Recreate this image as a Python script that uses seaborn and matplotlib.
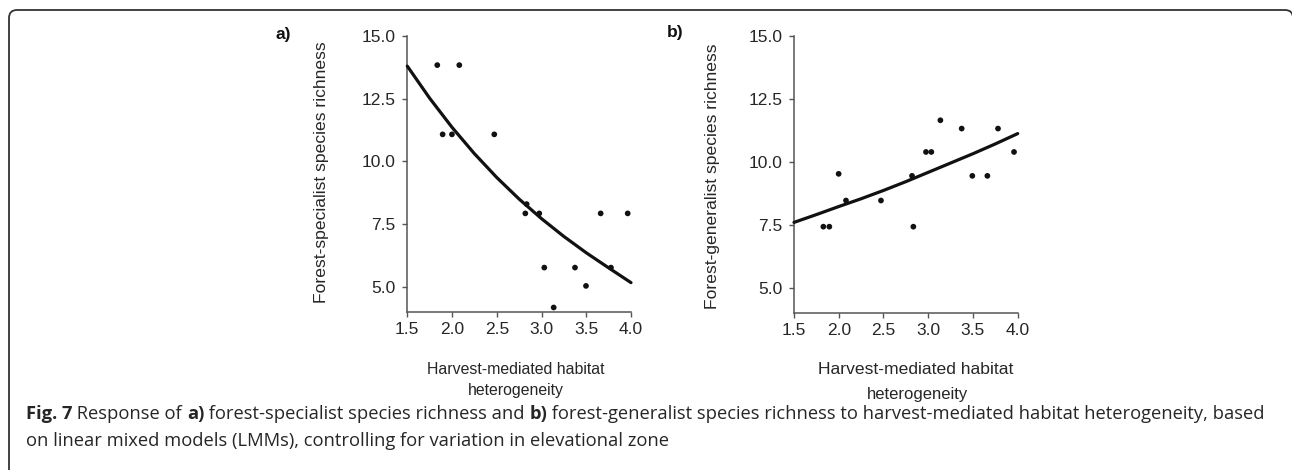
import matplotlib
matplotlib.use("Agg")
import matplotlib.pyplot as plt
import seaborn as sns
import pandas as pd
from matplotlib.patches import PathPatch
from matplotlib.path import Path
from matplotlib.transforms import IdentityTransform

# ---------------- data ----------------
spec_x = [1.835, 2.081, 1.895, 1.999, 2.472, 2.834, 2.819, 2.975, 3.031, 3.136,
          3.374, 3.497, 3.661, 3.776, 3.963]
spec_y = [13.84, 13.84, 11.08, 11.08, 11.08, 8.30, 7.93, 7.93, 5.77, 4.18,
          5.77, 5.04, 7.93, 5.77, 7.93]
spec_fit_x = [1.5, 1.75, 2.0, 2.25, 2.5, 2.75, 3.0, 3.25, 3.5, 3.75, 4.0]
spec_fit_y = [13.80, 12.52, 11.36, 10.31, 9.36, 8.50, 7.72, 7.01, 6.36, 5.76, 5.17]

gen_x = [1.828, 1.895, 1.999, 2.081, 2.472, 2.819, 2.834, 2.975, 3.035, 3.136,
         3.374, 3.493, 3.661, 3.780, 3.959]
gen_y = [7.42, 7.42, 9.52, 8.46, 8.46, 9.44, 7.42, 10.39, 10.39, 11.65,
         11.32, 9.44, 9.44, 11.32, 10.39]
gen_fit_x = [1.5, 1.75, 2.0, 2.25, 2.5, 2.75, 3.0, 3.25, 3.5, 3.75, 4.0]
gen_fit_y = [7.59, 7.90, 8.22, 8.53, 8.86, 9.21, 9.58, 9.95, 10.32, 10.71, 11.12]

x_ticks = [1.5, 2.0, 2.5, 3.0, 3.5, 4.0]
x_tick_labels = ["1.5", "2.0", "2.5", "3.0", "3.5", "4.0"]
y_ticks = [5.0, 7.5, 10.0, 12.5, 15.0]
y_tick_labels = ["5.0", "7.5", "10.0", "12.5", "15.0"]
x_lim = (1.5, 4.0)
y_lim = (4.0, 15.0)

panel_labels = ["a)", "b)"]
y_labels = ["Forest-specialist species richness", "Forest-generalist species richness"]
x_label_lines = ["Harvest-mediated habitat", "heterogeneity"]

caption_line1 = [("Fig. 7", "bold"), (" Response of ", "normal"), ("a)", "bold"),
                 (" forest-specialist species richness and ", "normal"), ("b)", "bold"),
                 (" forest-generalist species richness to harvest-mediated habitat heterogeneity, based", "normal")]
caption_line2 = [("on linear mixed models (LMMs), controlling for variation in elevational zone", "normal")]

# ---------------- styling ----------------
sns.set_theme(style="ticks")
plt.rcParams['font.family'] = ['Liberation Sans', 'DejaVu Sans']

W, H = 1292, 470
fig = plt.figure(figsize=(W / 100, H / 100), dpi=100)
fig.patch.set_facecolor("white")

INK = "#111111"
TXT = "#262626"
AX = "#555555"


def px_axes(l, t, r, b):
    return fig.add_axes([l / W, 1 - b / H, (r - l) / W, (b - t) / H])


def ftext(x, y, s, **kw):
    return fig.text(x / W, 1 - y / H, s, **kw)


ax_a = px_axes(407.3, 36, 631, 312)
ax_b = px_axes(794, 36, 1017.7, 312.7)

panels = [
    (ax_a, spec_x, spec_y, spec_fit_x, spec_fit_y),
    (ax_b, gen_x, gen_y, gen_fit_x, gen_fit_y),
]

for ax, px, py, fx, fy in panels:
    pts = pd.DataFrame({"x": px, "y": py})
    fit = pd.DataFrame({"x": fx, "y": fy})
    sns.lineplot(data=fit, x="x", y="y", ax=ax, color=INK, linewidth=2.3,
                 estimator=None, sort=True, clip_on=False, zorder=3)
    sns.scatterplot(data=pts, x="x", y="y", ax=ax, color=INK, s=17,
                    edgecolor="none", clip_on=False, zorder=4)
    ax.set_xlim(*x_lim)
    ax.set_ylim(*y_lim)
    ax.set_xticks(x_ticks)
    ax.set_xticklabels(x_tick_labels)
    ax.set_yticks(y_ticks)
    ax.set_yticklabels(y_tick_labels)
    ax.set_xlabel("")
    ax.set_ylabel("")
    ax.set_facecolor("none")
    sns.despine(ax=ax)
    for sp in ("left", "bottom"):
        ax.spines[sp].set_color(AX)
        ax.spines[sp].set_linewidth(1.1)
    ax.tick_params(axis="both", direction="out", length=3.5, width=1.0,
                   color=AX, labelcolor=TXT, labelsize=12.5)
    ax.tick_params(axis="y", pad=5)
    ax.tick_params(axis="x", pad=4)

# y labels
ftext(321.7, 172, y_labels[0], rotation=90, ha="center", va="center",
      fontsize=12.6, color=TXT)
ftext(713, 176, y_labels[1], rotation=90, ha="center", va="center",
      fontsize=12.6, color=TXT)

# panel labels
ftext(283, 35, panel_labels[0], ha="center", va="center", fontsize=12.5,
      fontweight="bold", color=INK)
ftext(675, 33, panel_labels[1], ha="center", va="center", fontsize=12.5,
      fontweight="bold", color=INK)

# x labels
ftext(516, 369, x_label_lines[0], ha="center", va="center", fontsize=11.4, color=TXT)
ftext(516, 391, x_label_lines[1], ha="center", va="center", fontsize=11.4, color=TXT)
ftext(916, 370, x_label_lines[0], ha="center", va="center", fontsize=12.6, color=TXT)
ftext(917, 394, x_label_lines[1], ha="center", va="center", fontsize=12.0, color=TXT)

# caption (rich text via chained annotations)
cap_family = ["Open Sans", "DejaVu Sans"]
overlay = fig.add_axes([0, 0, 1, 1])
overlay.set_axis_off()
overlay.set_xlim(0, W)
overlay.set_ylim(H, 0)


def rich_line(segs, x, y, size):
    arts = []
    first = overlay.text(x, y, segs[0][0], fontsize=size, fontweight=segs[0][1],
                         family=cap_family, ha="left", va="center", color=TXT)
    arts.append(first)
    prev = first
    for s, w in segs[1:]:
        a = overlay.annotate(s, xy=(1, 0), xycoords=prev, ha="left", va="bottom",
                             fontsize=size, fontweight=w, family=cap_family,
                             color=TXT, annotation_clip=False)
        arts.append(a)
        prev = a
    return arts


size = 12.0
l1 = rich_line(caption_line1, 26, 414, size)
l2 = rich_line(caption_line2, 26, 441, size)
for _ in range(3):
    fig.canvas.draw()
    r = fig.canvas.get_renderer()
    x_end = l1[-1].get_window_extent(r).x1
    size *= (1267 - 26) / (x_end - 26)
    for t in l1 + l2:
        t.set_fontsize(size)

# border: left and top edges with rounded corners; the right edge lies
# just outside the image in the reference
top = H - 10
rad = 8
verts = [(9, -5), (9, top - rad), (9, top), (9 + rad, top),
         (1293 - rad, top), (1293, top), (1293, top - rad), (1293, top - 14)]
codes = [Path.MOVETO, Path.LINETO, Path.CURVE3, Path.CURVE3,
         Path.LINETO, Path.CURVE3, Path.CURVE3, Path.LINETO]
border = PathPatch(Path(verts, codes), transform=IdentityTransform(), fill=False,
                   edgecolor="#333333", linewidth=1.3)
fig.add_artist(border)

fig.savefig("out.png", dpi=100, facecolor="white")
